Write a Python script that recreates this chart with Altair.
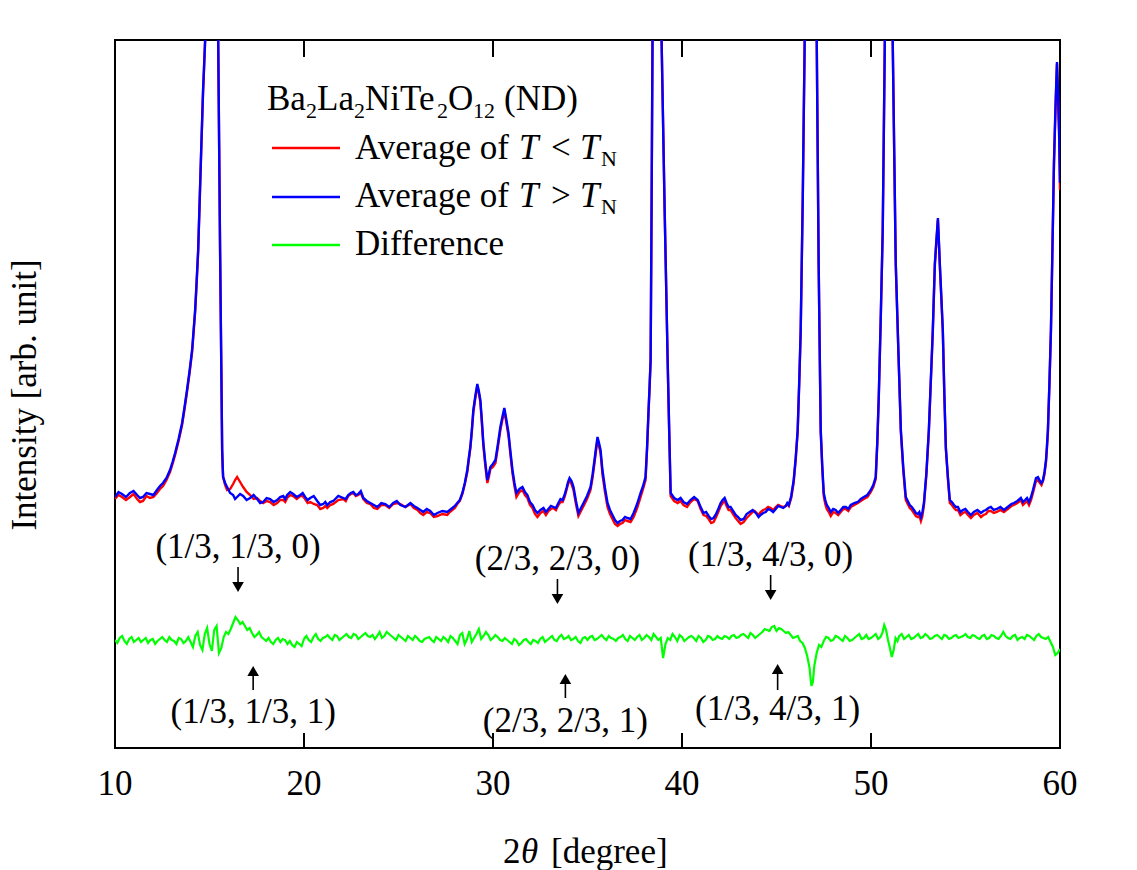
import altair as alt
import pandas as pd

# ---------------- data ----------------
two_theta = [
    10.00, 10.37, 10.79, 11.17, 11.48, 11.85, 12.22, 12.54, 12.91, 13.18,
    13.55, 13.81, 14.08, 14.24, 14.40, 14.56, 14.66, 14.77, 15.11, 15.46,
    15.56, 15.67, 15.72, 15.93, 16.25, 16.46, 16.78, 17.15, 17.52, 17.84,
    18.21, 18.58, 18.90, 19.11, 19.43, 19.80, 20.06, 20.33, 20.70, 21.02,
    21.23, 21.55, 22.08, 22.34, 22.61, 22.87, 23.14, 23.51, 23.88, 24.30,
    24.72, 25.10, 25.63, 26.00, 26.31, 26.68, 27.06, 27.58, 27.85, 28.11,
    28.38, 28.64, 28.80, 28.96, 29.17, 29.33, 29.49, 29.70, 29.86, 30.13,
    30.39, 30.60, 30.82, 31.03, 31.24, 31.56, 31.82, 32.09, 32.35, 32.67,
    32.93, 33.20, 33.46, 33.68, 33.89, 34.05, 34.26, 34.52, 34.79, 35.16,
    35.37, 35.53, 35.69, 35.79, 36.06, 36.32, 36.59, 36.85, 37.12, 37.44,
    37.81, 38.07, 38.23, 38.34, 38.44, 38.68, 38.92, 39.24, 39.40, 39.77,
    40.08, 40.45, 40.83, 41.14, 41.41, 41.67, 41.94, 42.15, 42.36, 42.57,
    42.84, 43.10, 43.42, 43.74, 43.95, 44.16, 44.43, 44.69, 44.96, 45.22,
    45.49, 45.65, 45.91, 46.12, 46.28, 46.39, 46.49, 46.81, 47.13, 47.23,
    47.34, 47.50, 47.66, 47.87, 48.13, 48.40, 48.67, 48.93, 49.30, 49.62,
    49.99, 50.25, 50.41, 50.62, 50.73, 50.94, 51.15, 51.31, 51.58, 51.84,
    52.05, 52.27, 52.48, 52.64, 52.80, 53.06, 53.27, 53.38, 53.54, 53.64,
    53.80, 53.96, 54.17, 54.39, 54.60, 54.86, 55.13, 55.44, 55.82, 56.08,
    56.34, 56.66, 57.03, 57.30, 57.56, 57.93, 58.15, 58.36, 58.57, 58.73,
    58.94, 59.10, 59.26, 59.36, 59.52, 59.68, 59.84, 59.95, 60.00,
]

above_tn = [  # Average of T > T_N (blue)
    251, 254, 255, 253, 251, 254, 258, 265, 278, 295,
    325, 358, 398, 438, 498, 598, 658, 708, 1600, 708,
    498, 298, 271, 261, 253, 251, 252, 250, 249, 246,
    249, 248, 252, 253, 254, 253, 251, 250, 247, 244,
    243, 247, 250, 253, 256, 254, 250, 245, 241, 244,
    245, 243, 245, 240, 236, 237, 235, 236, 240, 245,
    255, 278, 301, 338, 364, 348, 305, 268, 281, 288,
    321, 340, 315, 278, 255, 261, 253, 243, 235, 240,
    239, 241, 245, 248, 260, 270, 261, 235, 245, 261,
    288, 311, 298, 278, 245, 233, 225, 228, 230, 235,
    255, 271, 338, 388, 708, 1700, 708, 388, 255, 248,
    246, 248, 248, 235, 232, 230, 240, 248, 245, 241,
    233, 228, 234, 238, 234, 233, 236, 238, 239, 241,
    242, 243, 268, 318, 418, 551, 705, 1500, 705, 485,
    318, 255, 243, 236, 238, 238, 241, 243, 246, 251,
    258, 271, 351, 518, 705, 1300, 705, 485, 318, 251,
    243, 238, 234, 231, 245, 318, 418, 485, 530, 485,
    418, 301, 248, 243, 241, 238, 236, 236, 235, 238,
    241, 239, 238, 242, 245, 250, 248, 246, 258, 270,
    267, 268, 288, 318, 418, 585, 686, 618, 565,
]

# readings half-way between consecutive samples of the blue curve
above_tn_mid = [
    256, 251, 257, 250, 255, 253, 262, 270, 286, 309,
    341, 377, 418, 467, 548, 628, 683, 1150, 1150, 603,
    398, 283, 265, 255, 249, 254, 248, 253, 245, 250,
    246, 251, 249, 256, 251, 255, 248, 252, 243, 246,
    246, 252, 249, 255, 253, 257, 247, 243, 245, 241,
    247, 241, 242, 238, 239, 233, 237, 238, 242, 248,
    265, 290, 318, 352, 357, 328, 285, 274, 284, 304,
    331, 328, 296, 265, 259, 256, 246, 238, 238, 236,
    242, 240, 249, 253, 266, 267, 247, 240, 252, 273,
    300, 305, 288, 260, 238, 228, 227, 231, 229, 244,
    262, 300, 362, 540, 1200, 1200, 540, 320, 250, 250,
    244, 251, 241, 236, 229, 234, 245, 250, 241, 237,
    231, 229, 236, 236, 231, 235, 239, 236, 242, 240,
    245, 252, 290, 365, 485, 630, 1100, 1100, 595, 400,
    283, 248, 240, 239, 235, 241, 239, 245, 249, 253,
    263, 305, 430, 610, 1000, 1000, 595, 400, 280, 247,
    241, 235, 236, 236, 275, 368, 452, 508, 508, 452,
    355, 272, 246, 241, 236, 239, 233, 238, 237, 240,
    238, 241, 240, 244, 247, 246, 250, 251, 264, 271,
    265, 276, 302, 365, 500, 640, 655, 592,
]

below_tn = [  # Average of T < T_N (red)
    249, 251, 251, 249, 247, 250, 255, 262, 276, 293,
    323, 356, 396, 436, 496, 596, 656, 708, 1600, 708,
    498, 298, 271, 258, 264, 271, 261, 253, 250, 245,
    246, 245, 248, 250, 252, 252, 249, 246, 243, 240,
    240, 244, 249, 252, 255, 253, 249, 244, 239, 243,
    244, 244, 244, 238, 233, 235, 232, 233, 238, 244,
    254, 276, 300, 336, 362, 346, 302, 265, 279, 285,
    318, 337, 312, 275, 251, 258, 250, 240, 231, 237,
    237, 240, 243, 246, 258, 268, 258, 232, 242, 258,
    285, 308, 295, 274, 241, 229, 222, 225, 227, 231,
    251, 268, 336, 388, 708, 1700, 708, 388, 252, 245,
    243, 246, 247, 233, 229, 226, 237, 245, 242, 238,
    230, 224, 230, 236, 235, 236, 239, 240, 241, 242,
    242, 242, 266, 316, 416, 549, 705, 1500, 705, 485,
    316, 252, 239, 232, 235, 236, 239, 241, 245, 249,
    256, 269, 349, 516, 705, 1300, 705, 483, 316, 248,
    240, 235, 231, 227, 243, 316, 416, 483, 528, 483,
    416, 299, 245, 240, 238, 235, 233, 233, 231, 234,
    237, 236, 236, 240, 243, 248, 245, 243, 255, 267,
    265, 267, 286, 316, 416, 583, 684, 616, 558,
]

# readings half-way between consecutive samples of the red curve
below_tn_mid = [
    253, 248, 254, 246, 252, 251, 259, 268, 284, 307,
    339, 375, 416, 465, 546, 626, 681, 1150, 1150, 603,
    398, 283, 263, 259, 268, 266, 256, 249, 247, 247,
    243, 248, 246, 253, 249, 252, 245, 244, 239, 242,
    243, 248, 247, 254, 252, 255, 245, 240, 243, 240,
    245, 241, 240, 235, 236, 231, 234, 236, 240, 247,
    264, 288, 316, 350, 355, 325, 282, 271, 281, 301,
    328, 325, 293, 262, 256, 253, 243, 234, 235, 233,
    239, 238, 246, 251, 264, 264, 244, 237, 249, 270,
    297, 302, 285, 256, 234, 224, 224, 228, 226, 240,
    259, 298, 360, 540, 1200, 1200, 540, 318, 247, 247,
    241, 249, 239, 232, 225, 231, 242, 247, 238, 234,
    227, 226, 233, 237, 233, 238, 241, 238, 243, 241,
    244, 250, 288, 363, 483, 628, 1100, 1100, 595, 398,
    280, 244, 236, 236, 233, 239, 237, 243, 247, 251,
    261, 303, 428, 608, 1000, 1000, 593, 398, 277, 244,
    238, 232, 232, 232, 273, 366, 450, 506, 506, 450,
    353, 270, 243, 238, 233, 236, 230, 235, 233, 237,
    235, 238, 238, 242, 245, 243, 247, 248, 261, 268,
    263, 274, 300, 363, 498, 638, 653, 588,
]

diff_theta = [
    10.00, 10.25, 10.50, 10.75, 11.00, 11.25, 11.50, 11.75, 12.00, 12.25,
    12.50, 12.75, 13.00, 13.25, 13.50, 13.75, 14.00, 14.25, 14.50, 14.75,
    15.00, 15.25, 15.50, 15.75, 16.00, 16.25, 16.50, 16.75, 17.00, 17.25,
    17.50, 17.75, 18.00, 18.25, 18.50, 18.75, 19.00, 19.25, 19.50, 19.75,
    20.00, 20.25, 20.50, 20.75, 21.00, 21.25, 21.50, 21.75, 22.00, 22.25,
    22.50, 22.75, 23.00, 23.25, 23.50, 23.75, 24.00, 24.25, 24.50, 24.75,
    25.00, 25.25, 25.50, 25.75, 26.00, 26.25, 26.50, 26.75, 27.00, 27.25,
    27.50, 27.75, 28.00, 28.25, 28.50, 28.75, 29.00, 29.25, 29.50, 29.75,
    30.00, 30.25, 30.50, 30.75, 31.00, 31.25, 31.50, 31.75, 32.00, 32.25,
    32.50, 32.75, 33.00, 33.25, 33.50, 33.75, 34.00, 34.25, 34.50, 34.75,
    35.00, 35.25, 35.50, 35.75, 36.00, 36.25, 36.50, 36.75, 37.00, 37.25,
    37.50, 37.75, 38.00, 38.25, 38.50, 38.75, 39.00, 39.25, 39.50, 39.75,
    40.00, 40.25, 40.50, 40.75, 41.00, 41.25, 41.50, 41.75, 42.00, 42.25,
    42.50, 42.75, 43.00, 43.25, 43.50, 43.75, 44.00, 44.25, 44.50, 44.75,
    45.00, 45.25, 45.50, 45.75, 46.00, 46.25, 46.50, 46.75, 46.85, 47.00,
    47.25, 47.50, 47.75, 48.00, 48.25, 48.50, 48.75, 49.00, 49.25, 49.50,
    49.75, 50.00, 50.25, 50.50, 50.70, 50.90, 51.10, 51.30, 51.50, 51.75,
    52.00, 52.25, 52.50, 52.75, 53.00, 53.25, 53.50, 53.75, 54.00, 54.25,
    54.50, 54.75, 55.00, 55.25, 55.50, 55.75, 56.00, 56.25, 56.50, 56.75,
    57.00, 57.25, 57.50, 57.75, 58.00, 58.25, 58.50, 58.75, 59.00, 59.25,
    59.50, 59.75, 60.00,
]

difference = [
    108, 110, 107, 109, 106, 110, 108, 105, 109, 107,
    111, 106, 108, 104, 109, 107, 106, 112, 103, 114,
    104, 118, 95, 111, 114, 125, 128, 126, 118, 115,
    113, 111, 107, 106, 108, 106, 108, 107, 101, 104,
    109, 108, 111, 109, 110, 113, 108, 112, 110, 114,
    110, 113, 111, 115, 111, 109, 116, 112, 114, 110,
    113, 109, 112, 108, 110, 106, 110, 108, 111, 107,
    109, 112, 107, 113, 104, 117, 110, 119, 112, 113,
    110, 111, 107, 108, 104, 107, 105, 109, 104, 107,
    109, 106, 110, 108, 111, 109, 112, 109, 107, 110,
    108, 112, 109, 113, 108, 110, 107, 111, 109, 112,
    108, 113, 110, 111, 114, 108, 90, 110, 114, 107,
    111, 109, 112, 107, 110, 108, 111, 109, 110, 112,
    109, 113, 111, 114, 110, 113, 112, 116, 118, 121,
    117, 119, 115, 113, 111, 107, 100, 80, 62, 82,
    103, 107, 110, 108, 111, 107, 110, 108, 112, 109,
    113, 110, 114, 111, 123, 108, 91, 110, 112, 109,
    113, 110, 114, 111, 112, 110, 113, 109, 112, 110,
    113, 111, 114, 110, 112, 109, 113, 110, 112, 109,
    116, 110, 112, 108, 111, 113, 110, 112, 111, 109,
    106, 93, 99,
]

# readings half-way between consecutive difference samples (the noise)
difference_mid = [
    105, 112, 104, 111, 108, 106, 110, 108, 104, 109,
    108, 111, 107, 110, 105, 111, 101, 116, 98, 120,
    97, 122, 100, 116, 119, 131, 124, 122, 120, 111,
    116, 109, 110, 104, 110, 109, 104, 103, 106, 102,
    112, 106, 114, 107, 111, 110, 113, 108, 112, 111,
    114, 109, 113, 112, 113, 112, 110, 116, 112, 108,
    111, 107, 110, 112, 107, 109, 111, 106, 109, 111,
    106, 110, 104, 115, 109, 106, 114, 109, 116, 108,
    113, 108, 110, 106, 109, 103, 108, 106, 108, 105,
    111, 108, 112, 107, 113, 110, 108, 111, 105, 111,
    111, 108, 111, 110, 112, 109, 110, 113, 107, 110,
    111, 108, 113, 108, 111, 110, 104, 108, 111, 113,
    107, 111, 110, 112, 106, 112, 108, 112, 109, 111,
    112, 110, 113, 112, 115, 110, 114, 119, 117, 122,
    120, 117, 116, 110, 112, 105, 92, 70, 66, 95,
    101, 111, 107, 112, 109, 112, 107, 110, 114, 110,
    109, 112, 109, 115, 118, 100, 98, 107, 114, 111,
    109, 112, 110, 114, 109, 112, 111, 113, 109, 112,
    110, 112, 111, 113, 110, 112, 109, 113, 110, 112,
    112, 109, 113, 110, 109, 112, 108, 114, 110, 111,
    101, 95,
]

tick_values = [10, 20, 30, 40, 50, 60]

peak_labels = ["(1/3, 1/3, 0)", "(2/3, 2/3, 0)", "(1/3, 4/3, 0)",
               "(1/3, 1/3, 1)", "(2/3, 2/3, 1)", "(1/3, 4/3, 1)"]
peak_label_x = [16.51, 33.41, 44.69, 17.31, 33.83, 45.06]
peak_label_y = [190, 178, 182, 25, 16, 28]

down_arrow_x = [16.51, 33.41, 44.69]
down_arrow_top = [181, 169, 173]
down_arrow_tip = [155, 143, 147]

up_arrow_x = [17.31, 33.83, 45.06]
up_arrow_base = [58, 50, 58]
up_arrow_tip = [83, 75, 85]


# ---------------- tables ----------------
def with_mids(xv, yv, ymid):
    mx = [(a + b) / 2 for a, b in zip(xv[:-1], xv[1:])]
    return pd.concat([
        pd.DataFrame({"x": xv, "y": yv}),
        pd.DataFrame({"x": mx, "y": ymid}),
    ]).sort_values("x").reset_index(drop=True)


blue_df = with_mids(two_theta, above_tn, above_tn_mid)
red_df = with_mids(two_theta, below_tn, below_tn_mid)
diff_df = with_mids(diff_theta, difference, difference_mid)

tick_df = pd.DataFrame({"x": tick_values, "lab": [str(v) for v in tick_values]})
lab_df = pd.DataFrame({"x": peak_label_x, "y": peak_label_y, "t": peak_labels})
down_df = pd.DataFrame({"x": down_arrow_x, "y": down_arrow_top, "y2": down_arrow_tip})
down_df["yh"] = down_df["y2"] + 6
up_df = pd.DataFrame({"x": up_arrow_x, "y": up_arrow_base, "y2": up_arrow_tip})
up_df["yh"] = up_df["y2"] - 6

FONT = "Liberation Serif"
W, H = 945, 708

xs = alt.Scale(domain=[10, 60], nice=False, zero=False)
ys = alt.Scale(domain=[0, 708], nice=False, zero=False)


def X(field="x"):
    return alt.X(f"{field}:Q", scale=xs, axis=None)


def Y(field="y"):
    return alt.Y(f"{field}:Q", scale=ys, axis=None)


red_line = alt.Chart(red_df).mark_line(color="#ff0000", strokeWidth=2.4, clip=True).encode(
    x=X(), y=Y())
blue_line = alt.Chart(blue_df).mark_line(color="#0000ff", strokeWidth=2.4, clip=True).encode(
    x=X(), y=Y())
green_line = alt.Chart(diff_df).mark_line(color="#00ff00", strokeWidth=2.2, clip=True).encode(
    x=X(), y=Y())

bottom_ticks = alt.Chart(tick_df).mark_rule(color="black", strokeWidth=2).encode(
    x=X(), y=alt.value(H), y2=alt.value(H - 15))
top_ticks = alt.Chart(tick_df).mark_rule(color="black", strokeWidth=2).encode(
    x=X(), y=alt.value(0), y2=alt.value(17))
tick_labels = alt.Chart(tick_df).mark_text(
    font=FONT, fontSize=35, color="black", align="center", baseline="alphabetic"
).encode(x=X(), y=alt.value(H + 47), text="lab:N")

labels = alt.Chart(lab_df).mark_text(
    font=FONT, fontSize=35, color="black", align="center", baseline="alphabetic"
).encode(x=X(), y=Y(), text="t:N")

down_shaft = alt.Chart(down_df).mark_rule(color="black", strokeWidth=1.6).encode(
    x=X(), y=Y(), y2="yh:Q")
down_head = alt.Chart(down_df).mark_point(
    shape="triangle-down", filled=True, color="black", size=135, opacity=1
).encode(x=X(), y=Y("yh"))
up_shaft = alt.Chart(up_df).mark_rule(color="black", strokeWidth=1.6).encode(
    x=X(), y=Y(), y2="yh:Q")
up_head = alt.Chart(up_df).mark_point(
    shape="triangle-up", filled=True, color="black", size=135, opacity=1
).encode(x=X(), y=Y("yh"))

one = pd.DataFrame({"k": [0]})


def txt(s, x, y, size=35, style="normal", align="left", baseline="alphabetic", angle=0):
    return alt.Chart(one).mark_text(
        text=s, font=FONT, fontSize=size, fontStyle=style, color="black",
        align=align, baseline=baseline, angle=angle,
    ).encode(x=alt.value(x), y=alt.value(y))


def seg(color, y):
    return alt.Chart(one).mark_rule(color=color, strokeWidth=2.4).encode(
        x=alt.value(157), x2=alt.value(225), y=alt.value(y))


SUB = 22
legend = [
    txt("Ba", 152, 70), txt("2", 191, 78, SUB),
    txt("La", 202, 70), txt("2", 239, 78, SUB),
    txt("NiTe", 250, 70), txt("2", 322, 78, SUB),
    txt("O", 333, 70), txt("12", 358, 78, SUB),
    txt("(ND)", 389, 70),
    seg("#ff0000", 108), seg("#0000ff", 157), seg("#00ff00", 205),
    txt("Average of", 240, 119), txt("T", 404, 119, style="italic"),
    txt("<", 436, 119), txt("T", 465, 119, style="italic"), txt("N", 486, 126, SUB),
    txt("Average of", 240, 167), txt("T", 404, 167, style="italic"),
    txt(">", 436, 167), txt("T", 465, 167, style="italic"), txt("N", 486, 174, SUB),
    txt("Difference", 240, 215),
]

titles = [
    txt("2", 388, 823), txt("θ", 406, 823, style="italic"), txt("[degree]", 436, 823),
    txt("Intensity [arb. unit]", -90, 355, align="center", baseline="middle", angle=270),
]

chart = alt.layer(
    red_line, blue_line, green_line,
    bottom_ticks, top_ticks, tick_labels,
    labels, down_shaft, down_head, up_shaft, up_head,
    *legend, *titles,
).properties(
    width=W, height=H,
    autosize=alt.AutoSizeParams(type="none"),
    padding={"left": 115, "top": 40, "right": 77, "bottom": 122},
    background="white",
).configure_view(stroke="black", strokeWidth=2)

chart.save("out.html", embed_options={"renderer": "svg", "actions": False})
